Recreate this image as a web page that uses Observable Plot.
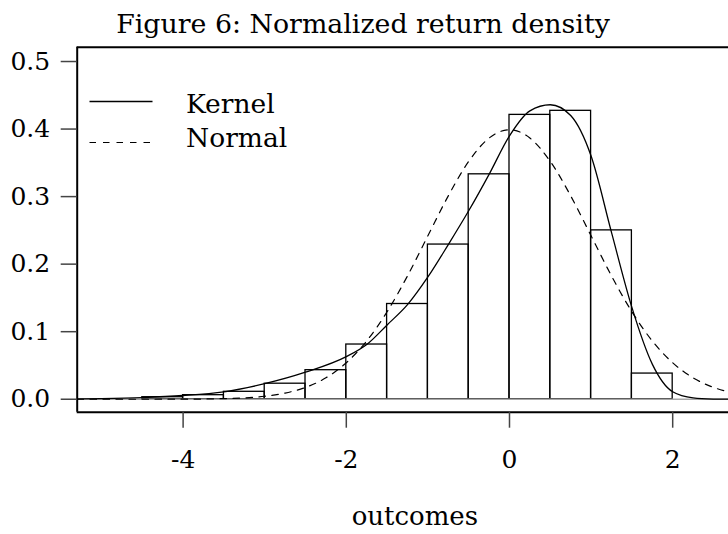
<!DOCTYPE html>
<html>
<head>
<meta charset="utf-8">
<script src="https://cdn.jsdelivr.net/npm/d3@7"></script>
<script src="https://cdn.jsdelivr.net/npm/@observablehq/plot@0.6"></script>
<style>
  html, body { margin: 0; padding: 0; background: #fff; overflow: hidden; }
  #wrap { position: relative; width: 728px; height: 534px; }
  #wrap svg { position: absolute; left: 0; top: 0; }
  text { font-family: "DejaVu Serif", serif; }
</style>
</head>
<body>
<div id="wrap"></div>
<script>
// ---- data ----
const titleText = "Figure 6: Normalized return density";
const xLabel = "outcomes";
const legendLabels = ["Kernel", "Normal"];

const binEdges = [-4.5, -4, -3.5, -3, -2.5, -2, -1.5, -1, -0.5, 0, 0.5, 1, 1.5, 2];
const binDensity = [0.003, 0.006, 0.011, 0.023, 0.043, 0.081, 0.141, 0.229, 0.333, 0.421, 0.427, 0.250, 0.038];

const kernelX = [-5.3, -5, -4.5, -4, -3.5, -3, -2.5, -2, -1.75, -1.5, -1.25, -1, -0.75, -0.5, -0.25, 0, 0.25, 0.5, 0.75, 1, 1.25, 1.5, 1.75, 2, 2.25, 2.5, 2.7];
const kernelY = [0.0005, 0.001, 0.0025, 0.0055, 0.011, 0.023, 0.040, 0.063, 0.081, 0.110, 0.140, 0.181, 0.229, 0.279, 0.333, 0.390, 0.427, 0.436, 0.420, 0.360, 0.247, 0.136, 0.052, 0.011, 0.002, 0.0003, 0];

const normalX = [-5.3, -5, -4.5, -4, -3.5, -3, -2.75, -2.5, -2.25, -2, -1.75, -1.5, -1.25, -1, -0.75, -0.5, -0.25, 0, 0.25, 0.5, 0.75, 1, 1.25, 1.5, 1.75, 2, 2.25, 2.5, 2.7];
const normalY = [0, 0, 0, 0.0001, 0.0009, 0.0044, 0.0091, 0.0175, 0.0317, 0.054, 0.0863, 0.1295, 0.1826, 0.242, 0.3011, 0.3521, 0.3867, 0.3989, 0.3867, 0.3521, 0.3011, 0.242, 0.1826, 0.1295, 0.0863, 0.054, 0.0317, 0.0175, 0.0104];

const xTicks = [-4, -2, 0, 2];
const yTicks = [0, 0.1, 0.2, 0.3, 0.4, 0.5];
const xDomain = [-5.298, 2.684];
const yDomain = [-0.0192, 0.5212];

// ---- tables ----
const bins = binDensity.map((d, i) => ({x1: binEdges[i], x2: binEdges[i + 1], y: d}));
const kernel = kernelX.map((x, i) => ({x, y: kernelY[i]}));
const normal = normalX.map((x, i) => ({x, y: normalY[i]}));

const font = '"DejaVu Serif", serif';

const chart = Plot.plot({
  width: 728,
  height: 534,
  marginLeft: 76.7,
  marginRight: 0,
  marginTop: 46.7,
  marginBottom: 122.3,
  style: {fontFamily: font, fontSize: "25px", background: "white", overflow: "hidden"},
  x: {domain: xDomain, label: null},
  y: {domain: yDomain, label: null},
  marks: [
    Plot.rectY(bins, {x1: "x1", x2: "x2", y: "y", fill: "none", stroke: "black", strokeWidth: 1.3}),
    Plot.ruleY([0], {stroke: "#a8a8a8", strokeWidth: 1.6}),
    Plot.line(normal, {x: "x", y: "y", curve: "monotone-x", stroke: "black", strokeWidth: 1.2, strokeDasharray: "6.5,6.5", clip: true}),
    Plot.line(kernel, {x: "x", y: "y", curve: "monotone-x", stroke: "black", strokeWidth: 1.3, clip: true}),
    Plot.ruleX([xDomain[0]], {stroke: "black", strokeWidth: 2}),
    Plot.ruleY([yDomain[0], yDomain[1]], {stroke: "black", strokeWidth: 2}),
    Plot.axisY({ticks: yTicks, tickSize: 16, tickPadding: 11, tickFormat: d => d.toFixed(1), stroke: "#444", strokeWidth: 1.5, fill: "black", fontSize: 25}),
    Plot.axisX({ticks: xTicks, tickSize: 16, tickPadding: 22, tickFormat: d => `${d}`, stroke: "#444", strokeWidth: 1.5, fill: "black", fontSize: 25}),
    Plot.text([xLabel], {frameAnchor: "bottom", text: d => d, dx: 12, dy: 113, fontSize: 26, lineAnchor: "bottom"})
  ]
});
document.getElementById("wrap").appendChild(chart);

// ---- title and legend overlay ----
const ov = d3.select("#wrap").append("svg")
  .attr("width", 728).attr("height", 534)
  .style("pointer-events", "none");
ov.append("text")
  .attr("x", 363).attr("y", 33)
  .attr("text-anchor", "middle")
  .style("font-family", font).style("font-size", "26.8px")
  .text(titleText);
const lg = ov.append("g");
lg.append("line").attr("x1", 89.5).attr("x2", 152.5).attr("y1", 101.5).attr("y2", 101.5)
  .attr("stroke", "black").attr("stroke-width", 1.3);
lg.append("line").attr("x1", 89.5).attr("x2", 152.5).attr("y1", 142.5).attr("y2", 142.5)
  .attr("stroke", "black").attr("stroke-width", 1.2).attr("stroke-dasharray", "6.5,7");
lg.selectAll("text.lab").data(legendLabels).join("text")
  .attr("class", "lab")
  .attr("x", 186).attr("y", (d, i) => i === 0 ? 113 : 147)
  .style("font-family", font).style("font-size", "26.5px")
  .text(d => d);
</script>
</body>
</html>
